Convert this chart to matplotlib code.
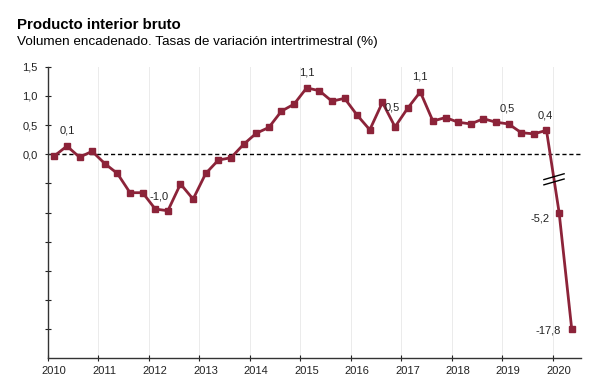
import numpy as np
import matplotlib.pyplot as plt
from matplotlib.transforms import ScaledTranslation

plt.rcParams['font.family'] = ['Liberation Sans', 'DejaVu Sans']

# quarterly growth rates, 2010Q1 .. 2020Q2
years = list(range(2010, 2021))
growth = [-0.03, 0.14, -0.05, 0.05,
          -0.16, -0.33, -0.66, -0.66,
          -0.94, -0.97, -0.51, -0.77,
          -0.33, -0.10, -0.06, 0.17,
          0.36, 0.46, 0.74, 0.86,
          1.14, 1.09, 0.91, 0.96,
          0.67, 0.42, 0.89, 0.47,
          0.79, 1.07, 0.57, 0.63,
          0.55, 0.52, 0.61, 0.55,
          0.52, 0.37, 0.35, 0.41,
          -5.2, -17.8]
# indices of the labelled points and their text offsets (points)
label_idx = [1, 9, 20, 27, 29, 36, 39, 40, 41]
label_off = [(0, 11), (-6, 10), (0, 11), (-2, 14), (0, 11), (-1, 11), (-1, 11), (-14, -4), (-17, -1)]

# axis break: values below this are compressed onto the lower part of the axis
break_src = [-17.8, -5.2]
break_dst = [-3.0, -1.0]

growth = np.array(growth)
x = np.array([2010 + i / 4 + 0.125 for i in range(len(growth))])
y = np.where(growth > -2, growth, np.interp(growth, break_src, break_dst))

color = '#8c2339'

fig = plt.figure(figsize=(6.15, 3.91), dpi=100)
ax = fig.add_axes([0.078, 0.084, 0.866, 0.745])

for yr in years[1:]:
    ax.axvline(yr, color='#ebebeb', lw=0.7, zorder=0)
ax.axhline(0, color='black', lw=1.0, ls=(0, (3, 2)), zorder=1)

ax.plot(x, y, color=color, lw=2.0, marker='s', ms=5, zorder=3)

for i, (dx, dy) in zip(label_idx, label_off):
    txt = f'{growth[i]:.1f}'.replace('.', ',')
    ax.annotate(txt, (x[i], y[i]), xytext=(dx, dy), textcoords='offset points',
                ha='center', va='center', fontsize=8, color='#222222')

# break marks on the falling segment
yb = -0.43
xb = np.interp(yb, [y[40], y[39]], [x[40], x[39]])
for off in (0.045, -0.045):
    ax.plot([xb - 0.2, xb + 0.2], [yb + off - 0.05, yb + off + 0.05],
            color='black', lw=1.0, zorder=4, clip_on=False)

ax.set_xlim(2010, 2020.55)
ax.set_ylim(-3.5, 1.5)
ax.set_xticks(years)
ax.set_xticklabels([str(v) for v in years])
ticks = np.arange(-3.0, 1.51, 0.5)
ax.set_yticks(ticks)
ax.set_yticklabels([f'{t:.1f}'.replace('.', ',') if t >= 0 else '' for t in ticks])
ax.tick_params(labelsize=8, colors='#222222', length=5, width=0.8, direction='inout')
ax.tick_params(axis='x', pad=3)
ax.tick_params(axis='y', pad=5)
shift = ScaledTranslation(6 / 100, 0, fig.dpi_scale_trans)
for lab in ax.get_xticklabels():
    lab.set_transform(lab.get_transform() + shift)
for s in ('top', 'right'):
    ax.spines[s].set_visible(False)
for s in ('left', 'bottom'):
    ax.spines[s].set_color('#333333')
    ax.spines[s].set_linewidth(1.0)

fig.text(0.028, 0.937, 'Producto interior bruto', fontsize=10.8, fontweight='bold', va='center')
fig.text(0.028, 0.893, 'Volumen encadenado. Tasas de variación intertrimestral (%)', fontsize=9.7, va='center')

fig.savefig('out.png', dpi=100)
